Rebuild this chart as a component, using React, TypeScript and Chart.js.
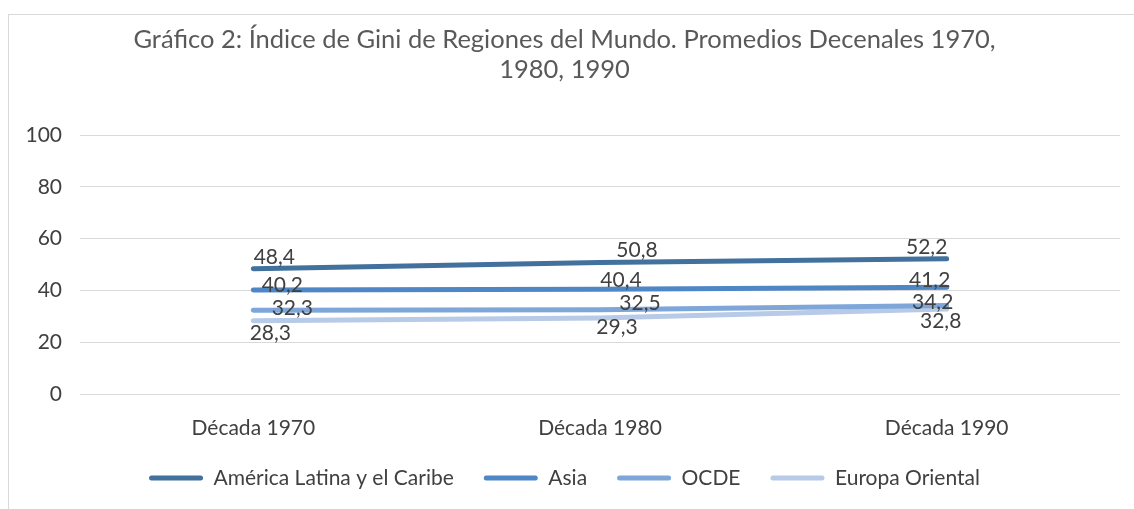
import React, { useEffect, useRef } from "react";
import { Chart, registerables } from "chart.js";

Chart.register(...registerables);

const TITLE_LINES = [
  "Gráfico 2: Índice de Gini de Regiones del Mundo. Promedios Decenales 1970,",
  "1980, 1990",
];
const CATEGORIES = ["Década 1970", "Década 1980", "Década 1990"];
const SERIES_NAMES = ["América Latina y el Caribe", "Asia", "OCDE", "Europa Oriental"];
const AMERICA_LATINA = [48.4, 50.8, 52.2];
const ASIA = [40.2, 40.4, 41.2];
const OCDE = [32.3, 32.5, 34.2];
const EUROPA_ORIENTAL = [28.3, 29.3, 32.8];
const Y_MIN = 0;
const Y_MAX = 100;
const Y_STEP = 20;

const SERIES_VALUES = [AMERICA_LATINA, ASIA, OCDE, EUROPA_ORIENTAL];
const SERIES_COLORS = ["#41719C", "#4F86C6", "#7EA6D8", "#B7CAE7"];
// label placement relative to each point (text centre), like the reference
const LABEL_SHIFTS: [number, number][][] = [
  [[21, -11], [37, -12], [-20, -12]],
  [[29, -5], [21, -9], [-17, -7]],
  [[39, -2], [40, -7], [-14, -3]],
  [[17, 13], [17, 9], [-6, 12]],
];

const FONT = "Lato, 'DejaVu Sans', sans-serif";
const TEXT_COLOR = "#404040";

const labelPlugin = {
  id: "pointLabels",
  afterDatasetsDraw(chart: any) {
    const ctx = chart.ctx;
    ctx.save();
    ctx.font = `21px ${FONT}`;
    ctx.fillStyle = TEXT_COLOR;
    ctx.textAlign = "center";
    ctx.textBaseline = "middle";
    chart.data.datasets.forEach((ds: any, di: number) => {
      const meta = chart.getDatasetMeta(di);
      meta.data.forEach((pt: any, i: number) => {
        const v = ds.data[i] as number;
        const [dx, dy] = LABEL_SHIFTS[di][i];
        ctx.fillText(v.toFixed(1).replace(".", ","), pt.x + dx, pt.y + dy);
      });
    });
    ctx.restore();
  },
};

export default function App() {
  const ref = useRef<HTMLCanvasElement | null>(null);

  useEffect(() => {
    if (!ref.current) return;
    const chart = new Chart(ref.current, {
      type: "line",
      data: {
        labels: CATEGORIES,
        datasets: SERIES_NAMES.map((name, i) => ({
          label: name,
          data: SERIES_VALUES[i],
          borderColor: SERIES_COLORS[i],
          backgroundColor: SERIES_COLORS[i],
          borderWidth: 5,
          borderCapStyle: "round" as const,
          pointRadius: 0,
          pointHoverRadius: 0,
          tension: 0,
          fill: false,
        })),
      },
      plugins: [labelPlugin],
      options: {
        animation: false,
        responsive: false,
        events: [],
        layout: { padding: { left: 0, right: 14, top: 0, bottom: 10.5 } },
        plugins: {
          title: {
            display: true,
            text: TITLE_LINES,
            color: "#595959",
            font: { family: FONT, size: 25.5, weight: "normal", lineHeight: 1.2 },
            padding: { top: 9, bottom: 49.8 },
          },
          legend: {
            display: true,
            position: "bottom",
            labels: {
              boxWidth: 54,
              boxHeight: 5,
              padding: 30,
              color: TEXT_COLOR,
              font: { family: FONT, size: 21 },
              useBorderRadius: true,
              borderRadius: 2.5,
              generateLabels: (c: any) =>
                Chart.defaults.plugins.legend.labels.generateLabels(c).map((l: any) => ({
                  ...l,
                  lineWidth: 0,
                  strokeStyle: "transparent",
                })),
            },
          },
          tooltip: { enabled: false },
        },
        scales: {
          x: {
            offset: true,
            grid: { display: false, drawTicks: false },
            border: { display: false },
            ticks: {
              color: TEXT_COLOR,
              font: { family: FONT, size: 21 },
              padding: 21.5,
              maxRotation: 0,
            },
            afterFit: (s: any) => {
              s.height = 43.5;
            },
          },
          y: {
            min: Y_MIN,
            max: Y_MAX,
            grid: { color: "#d9d9d9", lineWidth: 1, drawTicks: false },
            border: { display: false },
            ticks: {
              stepSize: Y_STEP,
              color: TEXT_COLOR,
              font: { family: FONT, size: 21 },
              padding: 18,
            },
            afterFit: (s: any) => {
              s.width = 71;
            },
          },
        },
      },
    });
    return () => chart.destroy();
  }, []);

  return (
    <div
      style={{
        position: "absolute",
        left: 8,
        top: 14,
        width: 1140,
        height: 510,
        borderLeft: "1px solid #d9d9d9",
        borderTop: "1px solid #d9d9d9",
        background: "#fff",
      }}
    >
      <canvas ref={ref} width={1125} height={494} style={{ display: "block" }} />
    </div>
  );
}
